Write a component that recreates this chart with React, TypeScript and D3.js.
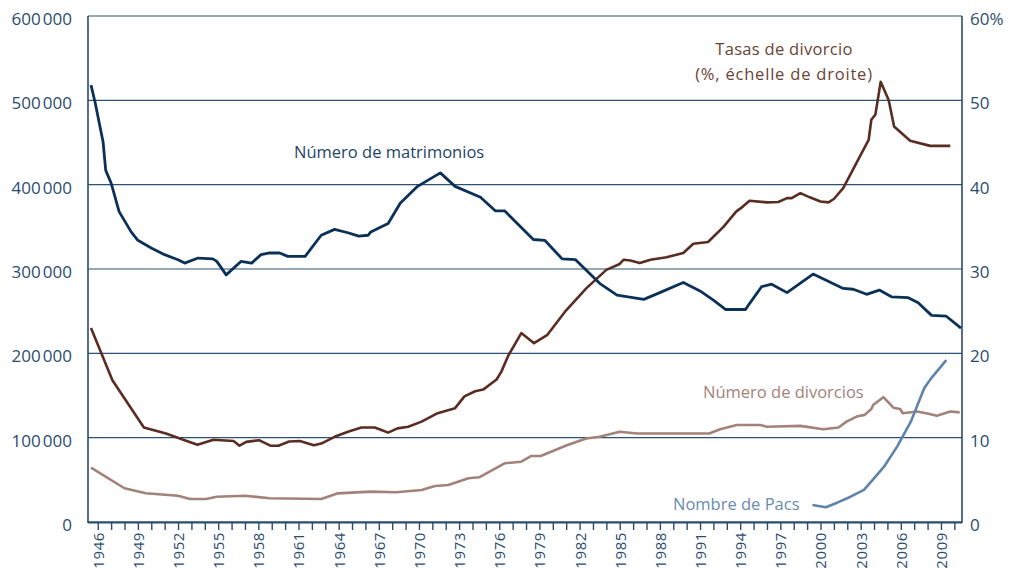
import React from "react";
import * as d3 from "d3";

const marYears = [1946, 1946.3, 1946.9, 1947.1, 1947.5, 1948.1, 1949.0, 1949.5, 1950.5, 1951.5, 1952.5, 1953.0, 1954.0, 1955.1, 1955.4, 1956.1, 1957.2, 1958.0, 1958.7, 1959.35, 1960.1, 1960.7, 1962.0, 1963.2, 1964.2, 1965.2, 1966.0, 1966.7, 1966.9, 1968.2, 1969.1, 1970.4, 1972.1, 1973.2, 1975.1, 1976.2, 1976.9, 1979.05, 1979.9, 1981.2, 1982.2, 1984.0, 1985.3, 1987.3, 1988.5, 1990.25, 1991.5, 1992.5, 1993.4, 1994.9, 1995.2, 1996.1, 1996.85, 1998.0, 1999.95, 2001.0, 2002.2, 2002.95, 2003.95, 2004.9, 2005.8, 2007.06, 2007.8, 2008.8, 2009.9, 2011.0];
const marValues = [518000, 498000, 451000, 417000, 402000, 368000, 344000, 334000, 325000, 317000, 311000, 307000, 313000, 312000, 309000, 293000, 309000, 307000, 317000, 319000, 319000, 315000, 315000, 340000, 347000, 343000, 339000, 340000, 344000, 354000, 378000, 398000, 414000, 398000, 385000, 369000, 369000, 335000, 334000, 312000, 311000, 283000, 269000, 264000, 272000, 284000, 274000, 263000, 252000, 252000, 259000, 279000, 282000, 272000, 294000, 286000, 277000, 276000, 270000, 275000, 267000, 266000, 260000, 245000, 244000, 230000];

const rateYears = [1946, 1947.6, 1949.95, 1951.6, 1953.0, 1953.95, 1955.15, 1956.65, 1957.1, 1957.6, 1958.55, 1959.4, 1960.0, 1960.8, 1961.6, 1962.65, 1963.2, 1964.2, 1965.2, 1966.2, 1967.2, 1967.7, 1968.2, 1968.9, 1969.7, 1970.7, 1971.9, 1973.2, 1973.9, 1974.7, 1975.3, 1976.3, 1976.65, 1977.2, 1978.15, 1979.1, 1980.1, 1981.5, 1983.0, 1984.5, 1985.5, 1985.8, 1986.3, 1987.0, 1987.8, 1989.0, 1990.25, 1991.0, 1992.1, 1993.25, 1994.2, 1994.7, 1995.2, 1996.5, 1997.35, 1998.0, 1998.35, 1999.0, 1999.7, 2000.5, 2001.1, 2001.5, 2002.2, 2003.3, 2004.1, 2004.3, 2004.6, 2005.0, 2005.6, 2006.0, 2007.2, 2008.7, 2010.2];
const rateValues = [23.0, 16.8, 11.2, 10.5, 9.7, 9.15, 9.75, 9.6, 9.05, 9.5, 9.7, 9.05, 9.05, 9.55, 9.6, 9.1, 9.3, 10.1, 10.7, 11.2, 11.2, 10.9, 10.6, 11.1, 11.3, 11.9, 12.9, 13.5, 14.9, 15.5, 15.7, 16.9, 17.8, 19.8, 22.4, 21.2, 22.2, 25.1, 27.7, 29.9, 30.6, 31.1, 31.0, 30.7, 31.1, 31.4, 31.9, 33.0, 33.2, 35.0, 36.8, 37.4, 38.1, 37.9, 37.95, 38.4, 38.4, 39.0, 38.5, 38.0, 37.9, 38.3, 39.6, 42.9, 45.3, 47.7, 48.3, 52.2, 50.0, 46.9, 45.2, 44.6, 44.6];

const divYears = [1946, 1948.5, 1950.1, 1952.5, 1953.4, 1954.6, 1955.4, 1957.5, 1959.35, 1963.2, 1964.45, 1966.9, 1968.8, 1970.7, 1971.7, 1972.7, 1974.2, 1975.0, 1976.9, 1978.15, 1978.9, 1979.6, 1981.6, 1983.0, 1984.0, 1985.5, 1986.8, 1992.2, 1993.0, 1994.25, 1996.0, 1996.5, 1999.0, 2000.7, 2001.85, 2002.45, 2003.2, 2003.8, 2004.3, 2004.45, 2005.2, 2005.95, 2006.45, 2006.65, 2007.7, 2008.4, 2009.2, 2010.2, 2010.9];
const divValues = [64400, 40000, 34000, 31200, 27300, 27300, 30000, 31200, 28100, 27300, 34000, 36000, 35200, 38000, 42700, 43900, 51800, 53000, 69600, 71500, 78300, 78300, 91300, 99000, 101000, 107000, 105000, 105000, 110000, 115000, 115000, 113000, 114000, 110000, 112000, 119000, 125000, 127000, 134000, 139000, 148000, 135500, 134000, 129000, 131000, 129000, 126000, 131000, 130000];

const pacsYears = [1999.9, 2000.9, 2001.75, 2002.75, 2003.75, 2004.5, 2005.25, 2006.25, 2007.25, 2008.25, 2008.75, 2009.9];
const pacsValues = [20200, 17400, 22900, 30000, 38000, 51800, 65600, 90000, 119000, 158500, 170000, 192000];

const leftTicks = [0, 100000, 200000, 300000, 400000, 500000, 600000];
const leftTickLabels = ["0", "100\u202F000", "200\u202F000", "300\u202F000", "400\u202F000", "500\u202F000", "600\u202F000"];
const rightTicks = [0, 10, 20, 30, 40, 50, 60];
const rightTickLabels = ["0", "10", "20", "30", "40", "50", "60%"];
const yearTicks = d3.range(1946, 2011);
const labeledYears = d3.range(1946, 2011, 3);

const labelMar = "Número de matrimonios";
const labelRate1 = "Tasas de divorcio";
const labelRate2 = "(%, échelle de droite)";
const labelDiv = "Número de divorcios";
const labelPacs = "Nombre de Pacs";

const W = 1011;
const H = 571;
const plotLeft = 88;
const plotRight = 962;
const plotTop = 16;
const plotBottom = 522;

const C_AXIS = "#2b4c6f";
const C_GRID = "#2d5074";
const C_MAR = "#0c3159";
const C_RATE = "#5a2d22";
const C_DIV = "#a3827a";
const C_PACS = "#5f83ac";
const FONT = "'Open Sans', sans-serif";

export default function App() {
  const x = d3.scaleLinear().domain([1946, 2011]).range([91, 961]);
  const yL = d3.scaleLinear().domain([0, 600000]).range([plotBottom, plotTop]);
  const yR = d3.scaleLinear().domain([0, 60]).range([plotBottom, plotTop]);
  const tickX = (yr: number) => x(yr + 0.54);

  const mkLine = (ys: number[], vs: number[], sc: d3.ScaleLinear<number, number>) =>
    d3.line<number>().x((_, i) => x(ys[i])).y((v) => sc(v)).curve(d3.curveLinear)(vs) || "";

  return (
    <svg width={W} height={H} style={{ position: "absolute", left: 0, top: 0, background: "#fff" }} fontFamily={FONT}>
      {leftTicks.map((t) => (
        <line key={"g" + t} x1={plotLeft} x2={plotRight} y1={yL(t)} y2={yL(t)} stroke={C_GRID} strokeWidth={1.2} />
      ))}
      <line x1={plotLeft} x2={plotLeft} y1={plotTop} y2={plotBottom + 1} stroke={C_AXIS} strokeWidth={1.6} />
      <line x1={plotRight} x2={plotRight} y1={plotTop} y2={plotBottom + 1} stroke={C_AXIS} strokeWidth={1.6} />
      <line x1={plotLeft} x2={plotRight} y1={plotBottom + 0.5} y2={plotBottom + 0.5} stroke={C_AXIS} strokeWidth={1.8} />
      {yearTicks.map((yr) => (
        <line key={"t" + yr} x1={tickX(yr)} x2={tickX(yr)} y1={plotBottom} y2={plotBottom + 8} stroke={C_AXIS} strokeWidth={1.4} />
      ))}
      {labeledYears.map((yr) => (
        <text key={"l" + yr} transform={`translate(${tickX(yr) + 5.5},${plotBottom + 10}) rotate(-90)`} textAnchor="end" fontSize={15} letterSpacing={0.6} fill={C_AXIS}>
          {yr}
        </text>
      ))}
      {leftTicks.map((t, i) => (
        <text key={"yl" + t} x={72} y={yL(t) + 9} textAnchor="end" fontSize={17} fill={C_AXIS}>
          {leftTickLabels[i]}
        </text>
      ))}
      {rightTicks.map((t, i) => (
        <text key={"yr" + t} x={970} y={yR(t) + 9} textAnchor="start" fontSize={17} fill={C_AXIS}>
          {rightTickLabels[i]}
        </text>
      ))}
      <path d={mkLine(divYears, divValues, yL)} fill="none" stroke={C_DIV} strokeWidth={2.6} strokeLinejoin="round" />
      <path d={mkLine(pacsYears, pacsValues, yL)} fill="none" stroke={C_PACS} strokeWidth={2.6} strokeLinejoin="round" />
      <path d={mkLine(rateYears, rateValues, yR)} fill="none" stroke={C_RATE} strokeWidth={2.6} strokeLinejoin="round" />
      <path d={mkLine(marYears, marValues, yL)} fill="none" stroke={C_MAR} strokeWidth={2.8} strokeLinejoin="round" />
      <text x={294} y={158} fontSize={16.5} fill="#1f4469">{labelMar}</text>
      <text x={784} y={55} fontSize={16.5} letterSpacing={0.3} fill="#6b4236" textAnchor="middle">{labelRate1}</text>
      <text x={784} y={80} fontSize={16.5} letterSpacing={0.8} fill="#6b4236" textAnchor="middle">{labelRate2}</text>
      <text x={703} y={398} fontSize={16.5} fill={C_DIV}>{labelDiv}</text>
      <text x={673} y={510} fontSize={16.5} fill="#6a8bb0">{labelPacs}</text>
    </svg>
  );
}
